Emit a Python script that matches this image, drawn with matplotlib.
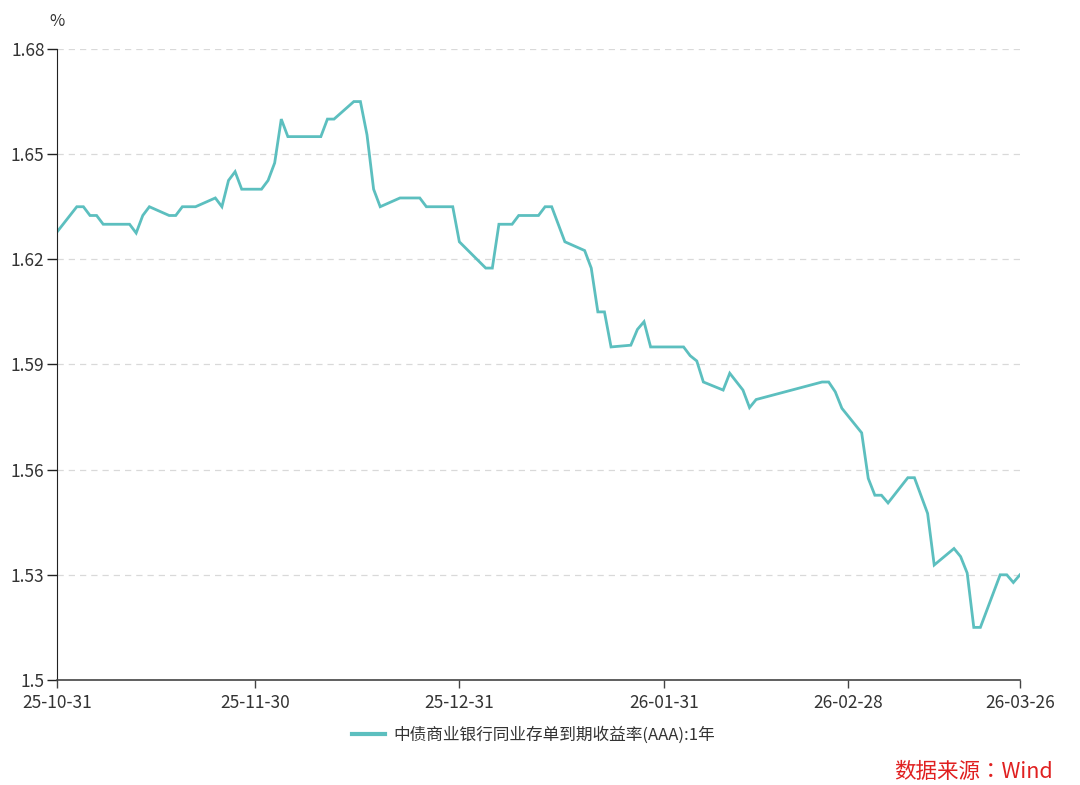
import numpy as np
import pandas as pd
import matplotlib
matplotlib.use('Agg')
import matplotlib.pyplot as plt
import matplotlib.dates as mdates

plt.rcParams['font.family'] = ['Noto Sans CJK SC', 'DejaVu Sans']

# --- datos ---
fechas = [
    '2025-10-31', '2025-11-03', '2025-11-04', '2025-11-05', '2025-11-06', '2025-11-07',
    '2025-11-11', '2025-11-12', '2025-11-13', '2025-11-14', '2025-11-17', '2025-11-18',
    '2025-11-19', '2025-11-21', '2025-11-24', '2025-11-25', '2025-11-26', '2025-11-27',
    '2025-11-28', '2025-12-01', '2025-12-02', '2025-12-03', '2025-12-04', '2025-12-05',
    '2025-12-10', '2025-12-11', '2025-12-12', '2025-12-15', '2025-12-16', '2025-12-17',
    '2025-12-18', '2025-12-19', '2025-12-22', '2025-12-25', '2025-12-26', '2025-12-30',
    '2025-12-31', '2026-01-04', '2026-01-05', '2026-01-06', '2026-01-08', '2026-01-09',
    '2026-01-12', '2026-01-13', '2026-01-14', '2026-01-16', '2026-01-19', '2026-01-20',
    '2026-01-21', '2026-01-22', '2026-01-23', '2026-01-26', '2026-01-27', '2026-01-28',
    '2026-01-29', '2026-02-03', '2026-02-04', '2026-02-05', '2026-02-06', '2026-02-09',
    '2026-02-10', '2026-02-12', '2026-02-13', '2026-02-14', '2026-02-24', '2026-02-25',
    '2026-02-26', '2026-02-27', '2026-03-02', '2026-03-03', '2026-03-04', '2026-03-05',
    '2026-03-06', '2026-03-09', '2026-03-10', '2026-03-12', '2026-03-13', '2026-03-16',
    '2026-03-17', '2026-03-18', '2026-03-19', '2026-03-20', '2026-03-23', '2026-03-24',
    '2026-03-25', '2026-03-26',
]
rendimiento = [
    1.6278, 1.635, 1.635, 1.6325, 1.6325, 1.630,
    1.630, 1.6275, 1.6325, 1.635, 1.6325, 1.6325,
    1.635, 1.635, 1.6375, 1.635, 1.6425, 1.645,
    1.640, 1.640, 1.6425, 1.6475, 1.660, 1.655,
    1.655, 1.660, 1.660, 1.665, 1.665, 1.6555,
    1.640, 1.635, 1.6375, 1.6375, 1.635, 1.635,
    1.625, 1.6175, 1.6175, 1.630, 1.630, 1.6325,
    1.6325, 1.635, 1.635, 1.625, 1.6225, 1.6175,
    1.605, 1.605, 1.595, 1.5955, 1.600, 1.6022,
    1.595, 1.595, 1.5925, 1.591, 1.585, 1.5827,
    1.5875, 1.5827, 1.5777, 1.580, 1.585, 1.585,
    1.5822, 1.5775, 1.5705, 1.5575, 1.5527, 1.5527,
    1.5505, 1.5577, 1.5577, 1.5475, 1.5328, 1.5375,
    1.5352, 1.5305, 1.515, 1.515, 1.530, 1.530,
    1.5278, 1.530,
]
ticks_y = [1.5, 1.53, 1.56, 1.59, 1.62, 1.65, 1.68]
etiquetas_y = ['1.5', '1.53', '1.56', '1.59', '1.62', '1.65', '1.68']
ticks_x = ['2025-10-31', '2025-11-30', '2025-12-31', '2026-01-31', '2026-02-28', '2026-03-26']
nombre_serie = '中债商业银行同业存单到期收益率(AAA):1年'
fuente = '数据来源：Wind'

color_linea = '#5cbfbf'

fig = plt.figure(figsize=(10.8, 7.85), dpi=100)
ax = fig.add_axes([0.0528, 0.1338, 0.8916, 0.8038])

x = pd.to_datetime(fechas)
ax.plot(x, rendimiento, color=color_linea, linewidth=2.0, solid_joinstyle='miter',
        label=nombre_serie)

ax.set_xlim(pd.Timestamp(ticks_x[0]), pd.Timestamp(ticks_x[-1]))
ax.set_ylim(1.5, 1.68)

ax.set_yticks(ticks_y)
ax.set_yticklabels(etiquetas_y)
ax.set_xticks(pd.to_datetime(ticks_x))
ax.xaxis.set_major_formatter(mdates.DateFormatter('%y-%m-%d'))

ax.grid(axis='y', color='#d9d9d9', linestyle=(0, (5, 4)), linewidth=0.9)
ax.set_axisbelow(True)

for lado in ['top', 'right']:
    ax.spines[lado].set_visible(False)
ax.spines['left'].set_color('#222222')
ax.spines['bottom'].set_color('#444444')
ax.spines['bottom'].set_linewidth(1.2)

ax.tick_params(axis='y', length=7, width=1, color='#222222', labelsize=12.5,
               labelcolor='#333333', pad=2)
ax.tick_params(axis='x', length=6, width=1, color='#444444', labelsize=12.5,
               labelcolor='#333333', pad=4)

fig.text(0.0528, 0.972, '%', fontsize=12, color='#333333', ha='center', va='center')

leg = ax.legend(loc='upper center', bbox_to_anchor=(0.495, -0.05), frameon=False,
                fontsize=12, handlelength=2.0, handletextpad=0.5)
for t in leg.get_texts():
    t.set_color('#333333')
leg.get_lines()[0].set_linewidth(3)

fig.text(0.9745, 0.017, fuente, fontsize=15.5, color='#e02020', ha='right', va='center',
         family=['Noto Sans CJK TC', 'DejaVu Sans'])

fig.savefig('out.png', dpi=100)
